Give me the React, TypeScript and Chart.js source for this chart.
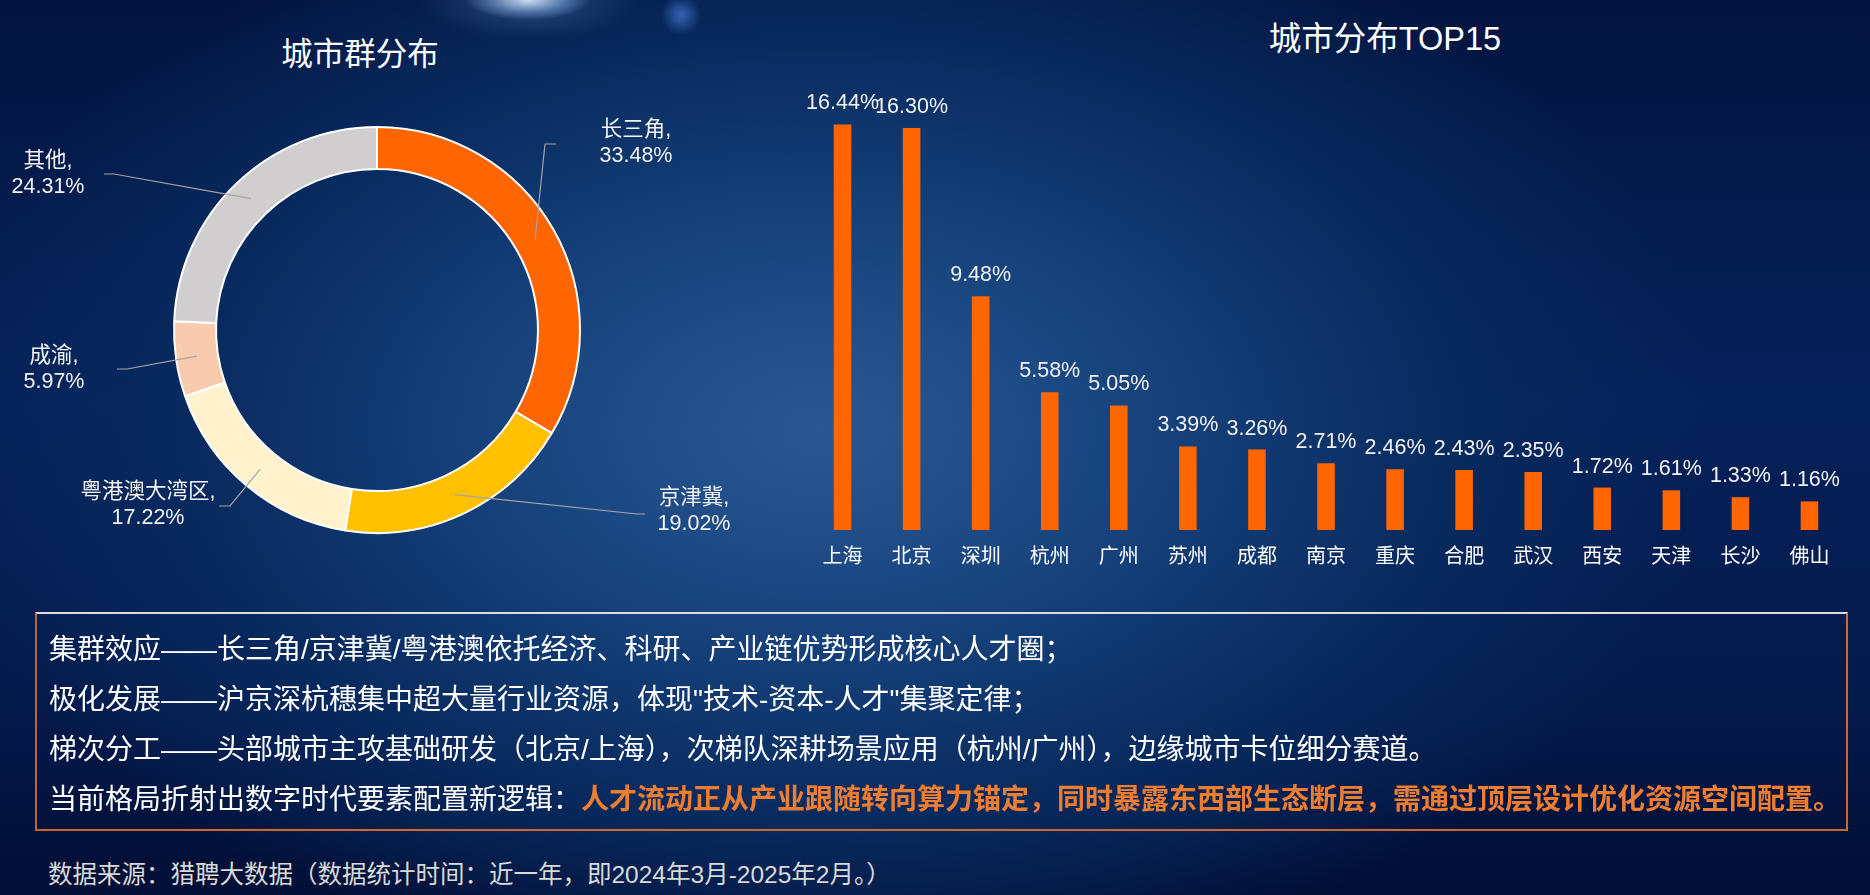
import React, { useEffect, useRef } from "react";
import { Chart, registerables } from "chart.js";

Chart.register(...registerables);

// ---------- data ----------
const clusterLabels = ["长三角", "京津冀", "粤港澳大湾区", "成渝", "其他"];
const clusterValues = [33.48, 19.02, 17.22, 5.97, 24.31];
const clusterColors = ["#FF6600", "#FFC000", "#FFF2CC", "#F8CBAD", "#D0CECE"];

const cityLabels = ["上海", "北京", "深圳", "杭州", "广州", "苏州", "成都", "南京", "重庆", "合肥", "武汉", "西安", "天津", "长沙", "佛山"];
const cityValues = [16.44, 16.3, 9.48, 5.58, 5.05, 3.39, 3.26, 2.71, 2.46, 2.43, 2.35, 1.72, 1.61, 1.33, 1.16];

const leftTitle = "城市群分布";
const rightTitle = "城市分布TOP15";

const notes = [
  "集群效应——长三角/京津冀/粤港澳依托经济、科研、产业链优势形成核心人才圈；",
  "极化发展——沪京深杭穗集中超大量行业资源，体现\"技术-资本-人才\"集聚定律；",
  "梯次分工——头部城市主攻基础研发（北京/上海），次梯队深耕场景应用（杭州/广州），边缘城市卡位细分赛道。",
];
const noteLeadIn = "当前格局折射出数字时代要素配置新逻辑：";
const noteHighlight = "人才流动正从产业跟随转向算力锚定，同时暴露东西部生态断层，需通过顶层设计优化资源空间配置。";
const sourceNote = "数据来源：猎聘大数据（数据统计时间：近一年，即2024年3月-2025年2月。）";

// label layout for the doughnut (offsets from chart centre: text centre, elbow, end of leader)
const donutLabelLayout = [
  { tx: 259, ty: -187, ex: 168, ey: -186, hx: 179 },
  { tx: 317, ty: 181, ex: 260, ey: 184, hx: 268 },
  { tx: -229, ty: 175, ex: -147, ey: 176, hx: -158 },
  { tx: -323, ty: 39, ex: -250, ey: 39, hx: -260 },
  { tx: -329, ty: -156, ex: -263, ey: -156, hx: -273 },
];

const FONT = "'Liberation Sans', 'Noto Sans CJK SC', sans-serif";

const fmt = (v: number) => v.toFixed(2) + "%";

const donutLabelPlugin = {
  id: "donutLabels",
  afterDatasetsDraw(chart: any) {
    const ctx = chart.ctx;
    const meta = chart.getDatasetMeta(0);
    ctx.save();
    meta.data.forEach((arc: any, i: number) => {
      const p = arc.getProps(["x", "y", "startAngle", "endAngle", "innerRadius", "outerRadius"], true);
      const mid = (p.startAngle + p.endAngle) / 2;
      const r = (p.innerRadius + p.outerRadius) / 2;
      const ax = p.x + Math.cos(mid) * r;
      const ay = p.y + Math.sin(mid) * r;
      const L = donutLabelLayout[i];
      ctx.strokeStyle = "#a6a6a6";
      ctx.lineWidth = 1.2;
      ctx.beginPath();
      ctx.moveTo(ax, ay);
      ctx.lineTo(p.x + L.ex, p.y + L.ey);
      ctx.lineTo(p.x + L.hx, p.y + L.ey);
      ctx.stroke();
      ctx.fillStyle = "#f2f2f2";
      ctx.font = "21.5px " + FONT;
      ctx.textAlign = "center";
      ctx.textBaseline = "middle";
      ctx.fillText(clusterLabels[i] + ",", p.x + L.tx, p.y + L.ty - 13);
      ctx.fillText(fmt(clusterValues[i]), p.x + L.tx, p.y + L.ty + 13);
    });
    ctx.restore();
  },
};

const barLabelPlugin = {
  id: "barLabels",
  afterDatasetsDraw(chart: any) {
    const ctx = chart.ctx;
    const meta = chart.getDatasetMeta(0);
    ctx.save();
    ctx.fillStyle = "#f2f2f2";
    ctx.font = "21.5px " + FONT;
    ctx.textAlign = "center";
    ctx.textBaseline = "alphabetic";
    meta.data.forEach((bar: any, i: number) => {
      ctx.fillText(fmt(cityValues[i]), bar.x, bar.y - 15);
    });
    ctx.restore();
  },
};

function DonutChart() {
  const ref = useRef<HTMLCanvasElement | null>(null);
  useEffect(() => {
    if (!ref.current) return;
    const chart = new Chart(ref.current, {
      type: "doughnut",
      data: {
        labels: clusterLabels,
        datasets: [
          {
            data: clusterValues,
            backgroundColor: clusterColors,
            borderColor: "#ffffff",
            borderWidth: 2,
          },
        ],
      },
      options: {
        responsive: false,
        animation: false,
        devicePixelRatio: 1,
        cutout: "79.3%",
        layout: { padding: { left: 173, right: 179, top: 126, bottom: 126 } },
        plugins: { legend: { display: false }, tooltip: { enabled: false } },
      },
      plugins: [donutLabelPlugin],
    } as any);
    return () => chart.destroy();
  }, []);
  return <canvas ref={ref} width={760} height={660} style={{ position: "absolute", left: 0, top: 0 }} />;
}

function BarChart() {
  const ref = useRef<HTMLCanvasElement | null>(null);
  useEffect(() => {
    if (!ref.current) return;
    const chart = new Chart(ref.current, {
      type: "bar",
      data: {
        labels: cityLabels,
        datasets: [
          {
            data: cityValues,
            backgroundColor: "#FF6600",
            borderWidth: 0,
            barPercentage: 0.254,
            categoryPercentage: 1,
          },
        ],
      },
      options: {
        responsive: false,
        animation: false,
        devicePixelRatio: 1,
        layout: { padding: { left: 48, right: 26, top: 86, bottom: 0 } },
        plugins: { legend: { display: false }, tooltip: { enabled: false } },
        scales: {
          x: {
            grid: { display: false, drawTicks: false },
            border: { display: false },
            ticks: { color: "#ffffff", font: { size: 20, family: FONT }, padding: 15, maxRotation: 0, autoSkip: false },
            afterFit: (s: any) => {
              s.height = 70;
            },
          },
          y: { display: false, min: 0, max: 18 },
        },
      },
      plugins: [barLabelPlugin],
    } as any);
    return () => chart.destroy();
  }, []);
  return <canvas ref={ref} width={1110} height={600} style={{ position: "absolute", left: 760, top: 0 }} />;
}

export default function App() {
  const bg = [
    "radial-gradient(ellipse 62px 20px at 528px 0px, rgba(220,236,255,0.9) 0px, rgba(140,180,230,0.45) 60%, rgba(60,100,170,0) 100%)",
    "radial-gradient(ellipse 110px 40px at 528px 0px, rgba(110,150,210,0.35) 0px, rgba(60,100,170,0) 100%)",
    "radial-gradient(circle at 681px 15px, rgba(70,120,210,0.75) 0px, rgba(40,80,170,0) 20px)",
    "radial-gradient(ellipse 900px 560px at 820px 430px, #2a5893 0%, #1d4a85 25%, #113a72 48%, #082a5e 70%, rgba(4,24,70,0) 100%)",
    "linear-gradient(180deg, #03143f 0%, #05215a 45%, #04194a 80%, #020e34 100%)",
  ].join(",");
  return (
    <div
      style={{
        position: "fixed",
        left: 0,
        top: 0,
        width: 1870,
        height: 895,
        overflow: "hidden",
        background: bg,
        fontFamily: FONT,
      }}
    >
      <div
        style={{
          position: "absolute",
          left: 160,
          width: 400,
          top: 54 - 20,
          height: 40,
          lineHeight: "40px",
          textAlign: "center",
          color: "#ffffff",
          fontSize: 31.5,
        }}
      >
        {leftTitle}
      </div>
      <div
        style={{
          position: "absolute",
          left: 1185,
          width: 400,
          top: 39 - 20,
          height: 40,
          lineHeight: "40px",
          textAlign: "center",
          color: "#ffffff",
          fontSize: 32.5,
        }}
      >
        {rightTitle}
      </div>
      <DonutChart />
      <BarChart />
      <div
        style={{
          position: "absolute",
          left: 35,
          top: 612,
          width: 1813,
          height: 219,
          boxSizing: "border-box",
          borderTop: "2px solid #dcdcdc",
          borderLeft: "2px solid #b8683a",
          borderRight: "2px solid #c8692e",
          borderBottom: "2px solid #c8692e",
          paddingLeft: 12,
          paddingTop: 11,
          color: "#ffffff",
          fontFamily: FONT,
          fontSize: 28,
          lineHeight: "50px",
          whiteSpace: "nowrap",
        }}
      >
        {notes.map((t, i) => (
          <div key={i}>{t}</div>
        ))}
        <div>
          {noteLeadIn}
          <span style={{ color: "#ED7D31", fontWeight: "bold" }}>{noteHighlight}</span>
        </div>
      </div>
      <div
        style={{
          position: "absolute",
          left: 48,
          top: 875 - 16,
          height: 32,
          lineHeight: "32px",
          color: "#d9d9d9",
          fontSize: 24.5,
          whiteSpace: "nowrap",
        }}
      >
        {sourceNote}
      </div>
    </div>
  );
}
